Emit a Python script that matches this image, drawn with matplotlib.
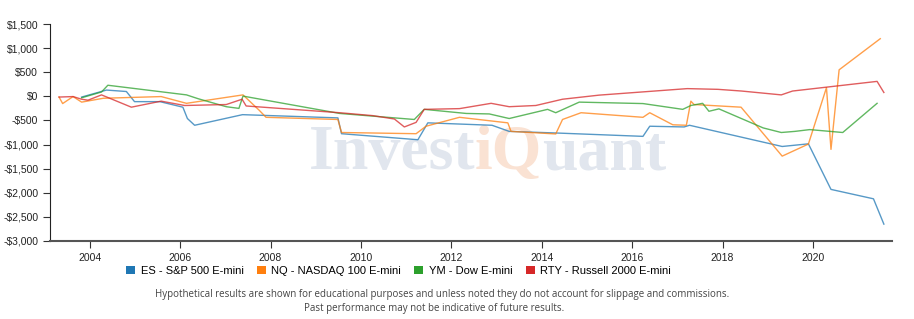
import matplotlib
matplotlib.use("Agg")
import matplotlib.pyplot as plt
from matplotlib.patches import Patch
from matplotlib.ticker import FuncFormatter

# series data: decimal year, cumulative P&L ($)
es_x = [2003.82, 2004.37, 2004.81, 2004.99, 2005.55, 2006.06, 2006.16, 2006.32, 2007.38,
        2009.49, 2009.57, 2011.26, 2011.48, 2012.9, 2013.28, 2014.31, 2016.24, 2016.39,
        2017.15, 2017.27, 2019.32, 2019.90, 2020.40, 2021.34, 2021.57]
es_y = [-15, 130, 100, -110, -110, -225, -460, -600, -380,
        -447, -775, -900, -550, -600, -727, -760, -830, -620,
        -635, -600, -1040, -985, -1930, -2125, -2650]

nq_x = [2003.32, 2003.40, 2003.63, 2003.82, 2004.30, 2005.58, 2006.14, 2007.39, 2007.75,
        2007.90, 2009.49, 2009.57, 2011.22, 2011.44, 2012.18, 2013.25, 2013.32, 2014.31,
        2014.46, 2014.87, 2016.24, 2016.39, 2016.90, 2017.20, 2017.30, 2017.37, 2018.41,
        2019.32, 2019.90, 2020.30, 2020.40, 2020.58, 2021.49]
nq_y = [-15, -150, -5, -120, -40, -5, -145, 30, -290,
        -435, -480, -750, -775, -620, -435, -550, -727, -780,
        -480, -340, -435, -340, -590, -600, -100, -170, -225,
        -1240, -990, 180, -1100, 550, 1195]

ym_x = [2003.82, 2004.26, 2004.40, 2006.14, 2006.40, 2007.02, 2007.30, 2007.39, 2009.53,
        2011.18, 2011.40, 2012.33, 2012.84, 2013.28, 2014.13, 2014.31, 2014.83, 2016.24,
        2017.12, 2017.30, 2017.56, 2017.70, 2017.92, 2018.90, 2019.30, 2019.60, 2019.93,
        2020.66, 2021.42]
ym_y = [-30, 90, 230, 30, -50, -215, -250, 5, -355,
        -480, -270, -355, -365, -460, -270, -340, -120, -150,
        -270, -190, -145, -310, -260, -655, -750, -727, -690,
        -750, -145]

rty_x = [2003.32, 2003.63, 2003.82, 2003.96, 2004.26, 2004.92, 2005.58, 2006.10, 2007.02,
         2007.37, 2007.46, 2009.53, 2010.26, 2010.74, 2010.96, 2011.22, 2011.40, 2012.18,
         2012.88, 2013.28, 2013.87, 2014.46, 2015.27, 2017.22, 2017.90, 2018.42, 2019.30,
         2019.55, 2021.42, 2021.57]
rty_y = [-15, -5, -60, -80, 30, -225, -100, -190, -170,
         -60, -200, -340, -400, -470, -635, -540, -270, -255,
         -145, -215, -190, -60, 25, 160, 145, 110, 30,
         110, 310, 80]

labels = ["ES - S&P 500 E-mini", "NQ - NASDAQ 100 E-mini",
          "YM - Dow E-mini", "RTY - Russell 2000 E-mini"]
colors = ["#1f77b4", "#ff7f0e", "#2ca02c", "#d62728"]
x_ticks = [2004, 2006, 2008, 2010, 2012, 2014, 2016, 2018, 2020]
y_ticks = [1500, 1000, 500, 0, -500, -1000, -1500, -2000, -2500, -3000]

plt.rcParams['font.family'] = ['Liberation Sans', 'DejaVu Sans']

fig = plt.figure(figsize=(9.14, 3.19), dpi=100)
ax = fig.add_axes([50/914, 1-241/319, 842/914, 217/319])

# watermark
wm_blue = '#e1e6ee'
wm_orange = '#fae2d3'
wm = ax.text(0.307, 0.33, "Invest", transform=ax.transAxes, fontsize=46,
             family='Liberation Serif', fontweight='bold', color=wm_blue,
             va='baseline', ha='left', zorder=0)
wm2 = ax.annotate("iQ", xy=(1, 0), xycoords=wm, fontsize=46, family='Liberation Serif',
                  fontweight='bold', color=wm_orange, va='bottom', ha='left', zorder=0)
ax.annotate("uant", xy=(1, 0), xycoords=wm2, fontsize=46, family='Liberation Serif',
            fontweight='bold', color=wm_blue, va='bottom', ha='left', zorder=0)

series = [(es_x, es_y), (nq_x, nq_y), (ym_x, ym_y), (rty_x, rty_y)]
for (xs, ys), c in zip(series, colors):
    ax.plot(xs, ys, color=c, lw=1.0, alpha=0.75, zorder=2)

ax.set_xlim(2003.12, 2021.75)
ax.set_ylim(-3000, 1500)
ax.set_xticks(x_ticks)
ax.set_yticks(y_ticks)

def money(v, pos):
    if v < 0:
        return "-${:,.0f}".format(-v)
    return "${:,.0f}".format(v)

ax.yaxis.set_major_formatter(FuncFormatter(money))
ax.tick_params(labelsize=7.5, length=5, color='#333333', labelcolor='#222222')
for s in ['top', 'right']:
    ax.spines[s].set_visible(False)
ax.spines['left'].set_color('#222222')
ax.spines['bottom'].set_color('#555555')
ax.spines['bottom'].set_linewidth(1.5)

handles = [Patch(facecolor=c, edgecolor='none') for c in colors]
fig.legend(handles, labels, loc='center', bbox_to_anchor=(0.436, 1-271/319), ncol=4,
           frameon=False, fontsize=8, handlelength=0.8, handleheight=0.8,
           handletextpad=0.5, columnspacing=1.2)

fig.text(0.484, 1-295/319, "Hypothetical results are shown for educational purposes and unless noted "
         "they do not account for slippage and commissions.", ha='center', va='center',
         fontsize=7, family='Open Sans', color='#444444')
fig.text(0.475, 1-309/319, "Past performance may not be indicative of future results.",
         ha='center', va='center', fontsize=7, family='Open Sans', color='#444444')

fig.savefig("out.png", dpi=100)
